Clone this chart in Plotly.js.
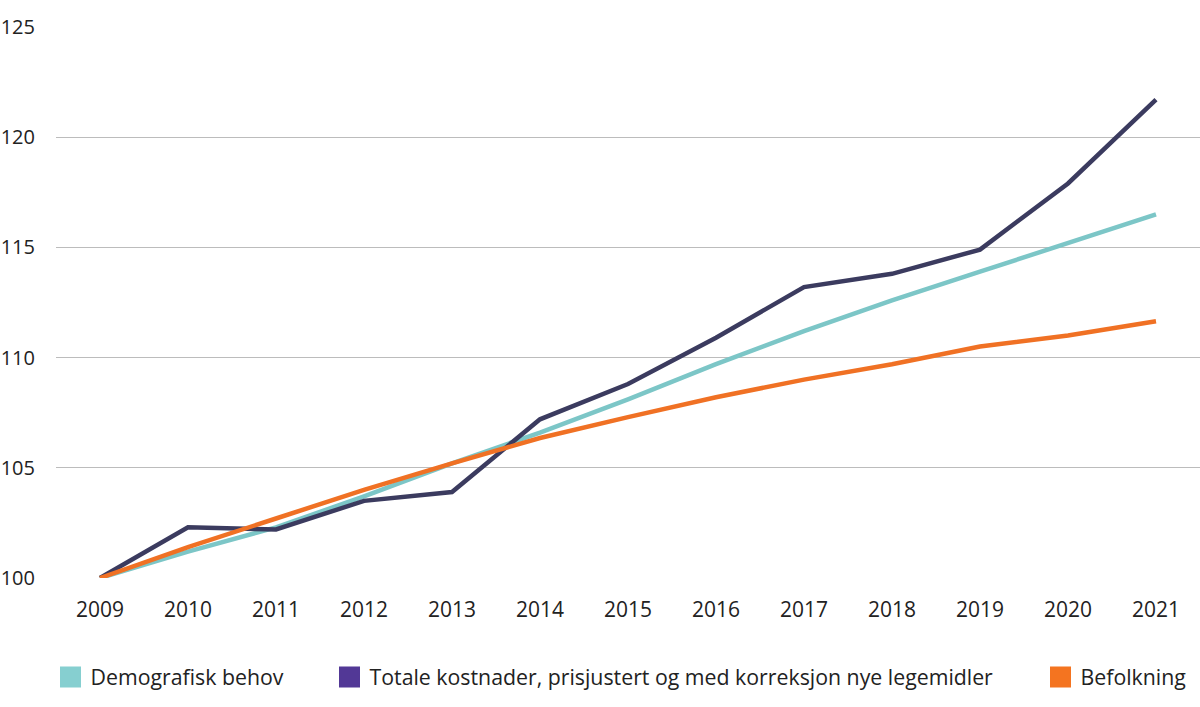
<!DOCTYPE html>
<html>
<head>
<meta charset="utf-8">
<script src="https://cdn.plot.ly/plotly-3.0.1.min.js"></script>
<style>html,body{margin:0;padding:0;background:#fff;}#chart{width:1200px;height:707px;}</style>
</head>
<body>
<div id="chart"></div>
<script>
const years = ['2009','2010','2011','2012','2013','2014','2015','2016','2017','2018','2019','2020','2021'];
const demografiskBehov = [100, 101.2, 102.3, 103.7, 105.2, 106.6, 108.1, 109.7, 111.2, 112.6, 113.9, 115.2, 116.5];
const totaleKostnader = [100, 102.3, 102.2, 103.5, 103.9, 107.2, 108.8, 110.9, 113.2, 113.8, 114.9, 117.9, 121.7];
const befolkning = [100, 101.4, 102.7, 104.0, 105.2, 106.35, 107.3, 108.2, 109.0, 109.7, 110.5, 111.0, 111.65];
const yTicks = [100, 105, 110, 115, 120, 125];
const names = ['Demografisk behov', 'Totale kostnader, prisjustert og med korreksjon nye legemidler', 'Befolkning'];

const lineColors = ['#7cc6c7', '#3b3b5f', '#f07124'];
const legendColors = ['#86cfd0', '#523896', '#f47420'];

const series = [demografiskBehov, totaleKostnader, befolkning];
const traces = [];
series.forEach((s, i) => {
  traces.push({
    x: years, y: s, type: 'scatter', mode: 'lines', name: names[i],
    line: {color: lineColors[i], width: 4.5}, showlegend: false, hoverinfo: 'x+y'
  });
});
const legendIds = ['legend', 'legend2', 'legend3'];
names.forEach((n, i) => {
  traces.push({
    x: [null], y: [null], type: 'scatter', mode: 'markers', name: n,
    marker: {symbol: 'square', size: 22, color: legendColors[i], line: {color: legendColors[i], width: 5}},
    showlegend: true, legend: legendIds[i]
  });
});

const fam = '"Open Sans", sans-serif';
const xFont = {family: fam, size: 21, color: '#222'};
const yFont = {family: fam, size: 20, color: '#222'};
const legFont = {family: fam, size: 21.3, color: '#222'};
const legBase = {orientation: 'h', yanchor: 'middle', xanchor: 'left', y: -0.18,
  font: legFont, bgcolor: 'rgba(0,0,0,0)', itemsizing: 'trace'};

const layout = {
  width: 1200, height: 707,
  margin: {l: 56, r: 0, t: 27, b: 129},
  paper_bgcolor: '#fff', plot_bgcolor: '#fff',
  font: legFont,
  xaxis: {type: 'category', showgrid: false, zeroline: false, showline: false,
    ticks: '', tickfont: xFont, range: [-0.5, 12.5], ticklabelstandoff: 17, fixedrange: true},
  yaxis: {range: [100, 125], tickvals: yTicks, ticktext: yTicks.map(String),
    showgrid: true, gridcolor: '#bcbcbc', gridwidth: 1.3, zeroline: false,
    showline: false, ticks: '', tickfont: yFont, ticklabelstandoff: 20, fixedrange: true},
  legend: Object.assign({}, legBase, {x: -0.0048}),
  legend2: Object.assign({}, legBase, {x: 0.2391}),
  legend3: Object.assign({}, legBase, {x: 0.8606}),
  showlegend: true
};
Plotly.newPlot('chart', traces, layout, {displayModeBar: false, staticPlot: true});
</script>
</body>
</html>
